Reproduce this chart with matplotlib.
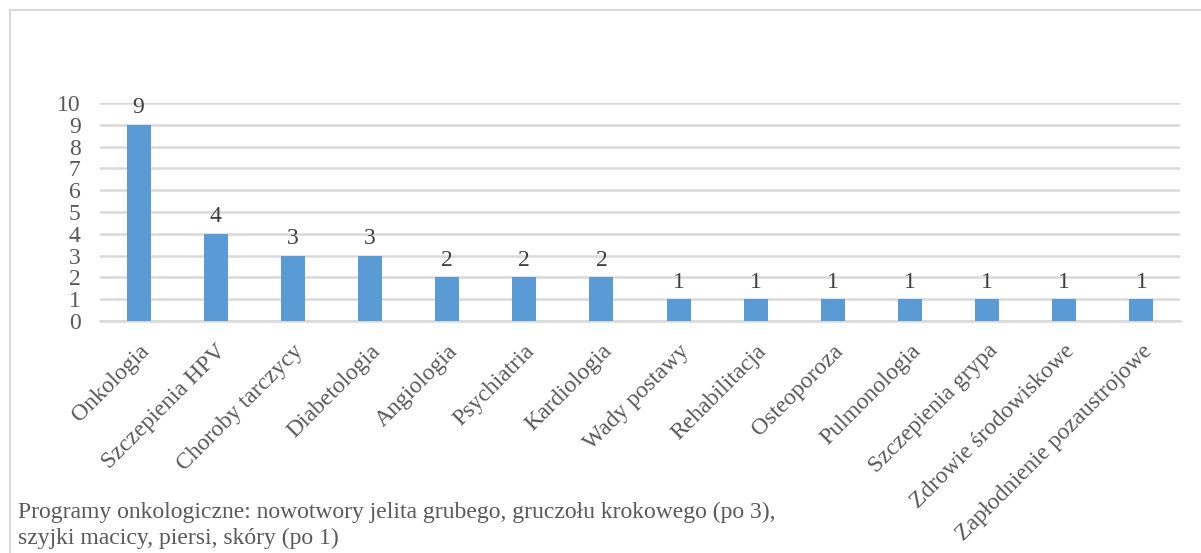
import matplotlib
matplotlib.use("Agg")
import matplotlib.pyplot as plt
from matplotlib.patches import Rectangle

categories = ["Onkologia", "Szczepienia HPV", "Choroby tarczycy", "Diabetologia",
              "Angiologia", "Psychiatria", "Kardiologia", "Wady postawy",
              "Rehabilitacja", "Osteoporoza", "Pulmonologia", "Szczepienia grypa",
              "Zdrowie środowiskowe", "Zapłodnienie pozaustrojowe"]
values = [9, 4, 3, 3, 2, 2, 2, 1, 1, 1, 1, 1, 1, 1]
yticks = list(range(0, 11))
note = ("Programy onkologiczne: nowotwory jelita grubego, gruczołu krokowego (po 3),\n"
        "szyjki macicy, piersi, skóry (po 1)")

plt.rcParams['font.family'] = ['Liberation Serif', 'DejaVu Serif']
txt = '#595959'
fs = 17

fig = plt.figure(figsize=(12.01, 5.53), dpi=100)
# light frame round the chart area
fig.patches.append(Rectangle((10/1201, -0.1), 1.2, 1 - 10/553 + 0.1,
                             transform=fig.transFigure, fill=False,
                             edgecolor='#d9d9d9', linewidth=1.5))

ax = fig.add_axes([100/1201, 1 - 321/553, 1080/1201, 218/553])
x = range(len(categories))
bars = ax.bar(x, values, width=0.31, color='#5B9BD5', zorder=3)
for b, v in zip(bars, values):
    ax.text(b.get_x() + b.get_width()/2, v + 0.3, str(v), ha='center', va='bottom',
            fontsize=fs, color='#404040')

ax.set_xlim(-0.5, len(categories) - 0.5)
ax.set_ylim(0, 10)
ax.set_yticks(yticks)
ax.yaxis.grid(True, color='#d9d9d9', linewidth=1.8, zorder=0)
ax.set_axisbelow(True)
for s in ['top', 'right', 'left']:
    ax.spines[s].set_visible(False)
ax.spines['bottom'].set_color('#d9d9d9')
ax.spines['bottom'].set_linewidth(1.8)
ax.tick_params(length=0, labelsize=fs, labelcolor=txt)
ax.tick_params(axis='y', pad=14)
ax.set_xticks(list(x))
ax.set_xticklabels(categories, rotation=45, ha='right', rotation_mode='anchor')
ax.tick_params(axis='x', pad=14)

fig.text(18/1201, 1 - 502/553, note, fontsize=fs, color=txt, va='top', linespacing=1.3)

fig.savefig("out.png", dpi=100)
